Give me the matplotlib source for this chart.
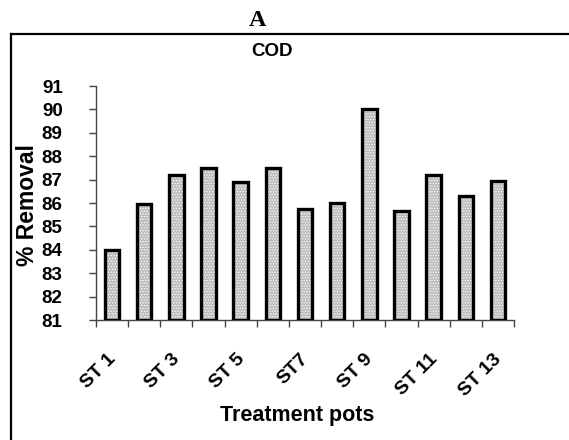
import matplotlib
matplotlib.use("Agg")
import matplotlib.pyplot as plt
import matplotlib.transforms as mtransforms
from matplotlib.lines import Line2D

############### DATA ###############

POTS = ["ST 1", "ST 2", "ST 3", "ST 4", "ST 5", "ST 6", "ST7",
        "ST 8", "ST 9", "ST 10", "ST 11", "ST 12", "ST 13"]
COD_REMOVAL = [84.0, 85.95, 87.2, 87.5, 86.9, 87.5, 85.75,
               86.0, 90.0, 85.65, 87.2, 86.3, 86.95]
Y_TICKS = [81, 82, 83, 84, 85, 86, 87, 88, 89, 90, 91]

############### PLOT ###############

plt.rcParams["font.family"] = ["Liberation Sans", "DejaVu Sans"]
plt.rcParams["hatch.linewidth"] = 0.6

fig = plt.figure(figsize=(5.69, 4.40), dpi=100)
ax = fig.add_axes([0.1687, 0.2727, 0.7346, 0.5318])

x = list(range(len(POTS)))
ax.bar(x, [v - 81 for v in COD_REMOVAL], bottom=81, width=0.45,
       color="#bdbdbd", hatch="......", edgecolor="white", linewidth=0, zorder=2)
ax.bar(x, [v - 81 for v in COD_REMOVAL], bottom=81, width=0.45,
       fill=False, edgecolor="black", linewidth=2.4, zorder=3)

ax.set_xlim(-0.5, len(POTS) - 0.5)
ax.set_ylim(81, 91)
ax.set_yticks(Y_TICKS)
ax.set_yticklabels([str(t) for t in Y_TICKS], fontsize=13.5, fontweight="bold")

# ticks on category boundaries, labels on every other bar
ax.set_xticks([i - 0.5 for i in range(len(POTS) + 1)])
ax.set_xticklabels([])
ax.set_xticks(x[::2], minor=True)
ax.set_xticklabels(POTS[::2], minor=True, rotation=45, ha="right",
                   rotation_mode="anchor", fontsize=14, fontweight="bold")
ax.tick_params(axis="x", which="minor", length=0, pad=22)
ax.tick_params(axis="x", which="major", length=5, width=1, color="#444444")
ax.tick_params(axis="y", length=5, width=1, color="#444444", pad=19)
shift = mtransforms.ScaledTranslation(-5 / 100, 0, fig.dpi_scale_trans)
for lbl in ax.get_xticklabels(minor=True):
    lbl.set_transform(lbl.get_transform() + shift)

for s in ["top", "right"]:
    ax.spines[s].set_visible(False)
for s in ["left", "bottom"]:
    ax.spines[s].set_color("#444444")
    ax.spines[s].set_linewidth(1)

fig.text(28 / 569, 1 - 205 / 440, "% Removal", rotation=90, ha="center",
         va="center", fontsize=16.5, fontweight="bold")
fig.text(297 / 569, 1 - 415 / 440, "Treatment pots", ha="center",
         va="center", fontsize=15.5, fontweight="bold")

fig.text(272 / 569, 1 - 52 / 440, "COD", ha="center", va="center",
         fontsize=13.5, fontweight="bold")
fig.text(258 / 569, 1 - 20 / 440, "A", ha="center", va="center",
         fontsize=17.5, fontweight="bold", family="Liberation Serif")

# outer frame (cut off at right and bottom)
fig.add_artist(Line2D([11 / 569, 1.0], [1 - 34 / 440, 1 - 34 / 440],
                      color="black", linewidth=1.6, transform=fig.transFigure))
fig.add_artist(Line2D([11 / 569, 11 / 569], [0.0, 1 - 34 / 440],
                      color="black", linewidth=1.6, transform=fig.transFigure))

fig.savefig("out.png", dpi=100)
